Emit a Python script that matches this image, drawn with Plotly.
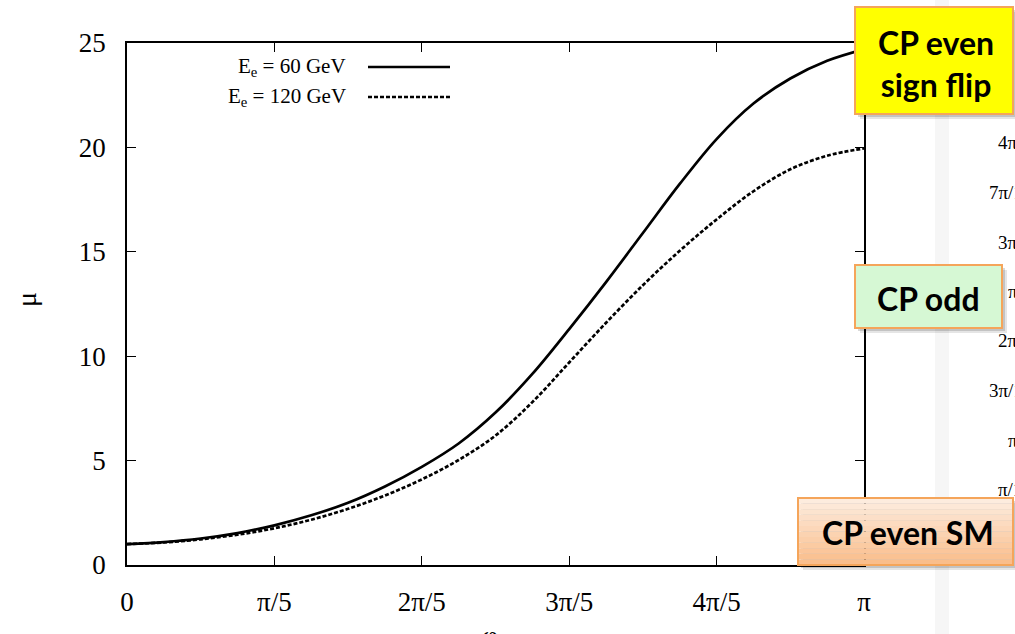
import plotly.graph_objects as go

# ---- data ----
phi_over_pi = [0.00, 0.05, 0.10, 0.15, 0.20, 0.25, 0.30, 0.35, 0.40, 0.45, 0.50,
               0.55, 0.60, 0.65, 0.70, 0.75, 0.80, 0.85, 0.90, 0.95, 1.00]
mu_60 = [1.00, 1.10, 1.27, 1.53, 1.90, 2.38, 2.98, 3.76, 4.70, 5.82, 7.30,
         9.15, 11.30, 13.55, 15.90, 18.25, 20.40, 22.10, 23.30, 24.15, 24.70]
mu_120 = [1.00, 1.08, 1.23, 1.45, 1.76, 2.17, 2.69, 3.33, 4.10, 5.03, 6.20,
          7.80, 9.70, 11.60, 13.40, 15.05, 16.55, 17.90, 18.95, 19.60, 19.95]
series_names = ["E<sub>e</sub> = 60 GeV", "E<sub>e</sub> = 120 GeV"]
x_tickvals = [0, 0.2, 0.4, 0.6, 0.8, 1.0]
x_ticktext = ["0", "π/5", "2π/5", "3π/5", "4π/5", "π"]
y_tickvals = [0, 5, 10, 15, 20, 25]
side_labels = ["4π/5", "7π/10", "3π/5", "π/2", "2π/5", "3π/10", "π/5", "π/10"]
box_texts = ["CP even<br>sign flip", "CP odd", "CP even SM"]

# ---- geometry helpers (pixel -> paper) ----
WIDTH, HEIGHT = 1015, 634
L, R, T, B = 127, 864, 43, 565
PW, PH = R - L, B - T
def px(x): return (x - L) / PW
def py(y): return (B - y) / PH

SERIF = "Liberation Serif, Times New Roman, serif"
SANS = "Lato, Open Sans, sans-serif"

fig = go.Figure()
fig.add_trace(go.Scatter(x=phi_over_pi, y=mu_60, mode="lines", name=series_names[0],
                         line=dict(color="black", width=2.7, shape="spline"),
                         showlegend=False))
fig.add_trace(go.Scatter(x=phi_over_pi, y=mu_120, mode="lines", name=series_names[1],
                         line=dict(color="black", width=2.7, dash="4px,2px", shape="spline"),
                         showlegend=False))

shapes = []
annotations = []

# manual legend (text left, sample line right)
for i, (name, dash) in enumerate(zip(series_names, ["solid", "4px,2px"])):
    yy = 67 + 30 * i
    annotations.append(dict(xref="paper", yref="paper", x=px(348), y=py(yy),
                            xanchor="right", yanchor="middle", showarrow=False,
                            text=name, font=dict(family=SERIF, size=21, color="black")))
    shapes.append(dict(type="line", xref="paper", yref="paper",
                       x0=px(368), x1=px(450), y0=py(yy), y1=py(yy),
                       line=dict(color="black", width=2.7, dash=dash)))

# faint vertical separator band at the right
shapes.append(dict(type="rect", xref="paper", yref="paper", layer="below",
                   x0=px(935), x1=px(949), y0=py(0), y1=py(HEIGHT),
                   fillcolor="#f6f6f6", line=dict(width=0)))

# cropped tick labels of the neighbouring chart
for i, lab in enumerate(side_labels):
    yy = 143 + 49.5 * i
    annotations.append(dict(xref="paper", yref="paper", x=px(1034), y=py(yy),
                            xanchor="right", yanchor="middle", showarrow=False,
                            text=lab, font=dict(family=SERIF, size=19, color="black")))

ORANGE = "#f5a55a"
def box(x0, x1, y0, y1, fill):
    # soft shadow
    for off, op in [(5, 0.10), (3, 0.15)]:
        shapes.append(dict(type="rect", xref="paper", yref="paper", layer="above",
                           x0=px(x0 + off), x1=px(x1 + off), y0=py(y1 + off), y1=py(y0 + off),
                           fillcolor="rgba(0,0,0,%s)" % op, line=dict(width=0)))
    if isinstance(fill, list):
        n = len(fill)
        for k, c in enumerate(fill):
            ya = y0 + (y1 - y0) * k / n
            yb = y0 + (y1 - y0) * (k + 1) / n
            shapes.append(dict(type="rect", xref="paper", yref="paper", layer="above",
                               x0=px(x0), x1=px(x1), y0=py(yb), y1=py(ya),
                               fillcolor=c, line=dict(width=0)))
        shapes.append(dict(type="rect", xref="paper", yref="paper", layer="above",
                           x0=px(x0), x1=px(x1), y0=py(y1), y1=py(y0),
                           fillcolor="rgba(0,0,0,0)", line=dict(color=ORANGE, width=2)))
    else:
        shapes.append(dict(type="rect", xref="paper", yref="paper", layer="above",
                           x0=px(x0), x1=px(x1), y0=py(y1), y1=py(y0),
                           fillcolor=fill, line=dict(color=ORANGE, width=2)))

def lerp(c1, c2, t):
    return "rgb(%d,%d,%d)" % tuple(round(a + (b - a) * t) for a, b in zip(c1, c2))

grad = [lerp((253, 236, 222), (250, 190, 140), k / 11) for k in range(12)]

box(855, 1013, 7, 114, "#ffff00")
box(855, 1002, 265, 328, "#d6f8d4")
box(798, 1013, 498, 565, grad)

BOXFONT = dict(family=SANS, size=32, color="black")
annotations.append(dict(xref="paper", yref="paper", x=px(936), y=py(63), xanchor="center",
                        yanchor="middle", showarrow=False, text="<b>" + box_texts[0] + "</b>",
                        font=BOXFONT))
annotations.append(dict(xref="paper", yref="paper", x=px(928), y=py(298), xanchor="center",
                        yanchor="middle", showarrow=False, text="<b>" + box_texts[1] + "</b>",
                        font=BOXFONT))
annotations.append(dict(xref="paper", yref="paper", x=px(908), y=py(532), xanchor="center",
                        yanchor="middle", showarrow=False, text="<b>" + box_texts[2] + "</b>",
                        font=BOXFONT))

# y axis title
annotations.append(dict(xref="paper", yref="paper", x=px(26), y=py(300), xanchor="center",
                        yanchor="middle", showarrow=False, text="μ", textangle=-90,
                        font=dict(family=SERIF, size=28, color="black")))
# x axis title (cut off at the bottom edge)
annotations.append(dict(xref="paper", yref="paper", x=px(490), y=py(618), xanchor="center",
                        yanchor="top", showarrow=False, text="φ",
                        font=dict(family=SERIF, size=28, color="black")))

axis_common = dict(showline=True, linecolor="black", linewidth=1.5, mirror="ticks",
                   ticks="inside", ticklen=9, tickwidth=1.2, tickcolor="black",
                   showgrid=False, zeroline=False,
                   tickfont=dict(family=SERIF, size=27, color="black"))

fig.update_layout(
    width=WIDTH, height=HEIGHT,
    margin=dict(l=L, r=WIDTH - R, t=T, b=HEIGHT - B, pad=0),
    paper_bgcolor="white", plot_bgcolor="white",
    xaxis=dict(range=[0, 1], tickvals=x_tickvals, ticktext=x_ticktext,
               ticklabelstandoff=12, **axis_common),
    yaxis=dict(range=[0, 25], tickvals=y_tickvals, ticklabelstandoff=14, **axis_common),
    shapes=shapes, annotations=annotations, showlegend=False,
)

fig.write_html("out.html")
